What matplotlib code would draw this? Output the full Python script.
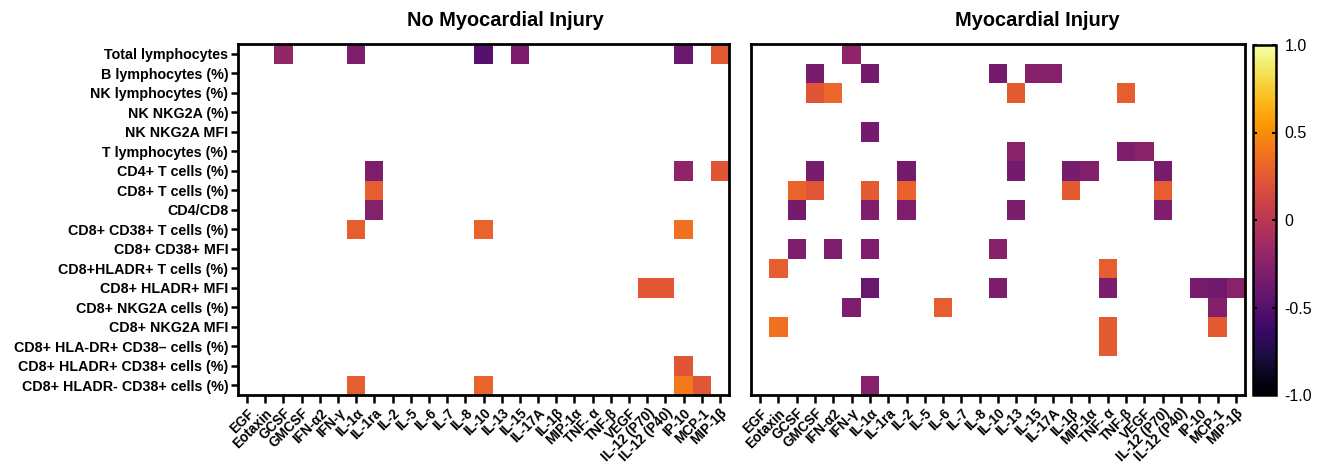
import numpy as np
import matplotlib
matplotlib.use("Agg")
import matplotlib.pyplot as plt
from matplotlib.colors import Normalize

plt.rcParams['font.family'] = ['Liberation Sans', 'DejaVu Sans']

row_labels = [
    "Total lymphocytes", "B lymphocytes (%)", "NK lymphocytes (%)", "NK NKG2A (%)",
    "NK NKG2A MFI", "T lymphocytes (%)", "CD4+ T cells (%)", "CD8+ T cells (%)",
    "CD4/CD8", "CD8+ CD38+ T cells (%)", "CD8+ CD38+ MFI", "CD8+HLADR+ T cells (%)",
    "CD8+ HLADR+ MFI", "CD8+ NKG2A cells (%)", "CD8+ NKG2A MFI",
    "CD8+ HLA-DR+ CD38\u2013 cells (%)", "CD8+ HLADR+ CD38+ cells (%)",
    "CD8+ HLADR- CD38+ cells (%)",
]
col_labels = [
    "EGF", "Eotaxin", "GCSF", "GMCSF", "IFN-\u03b12", "IFN-\u03b3", "IL-1\u03b1", "IL-1ra",
    "IL-2", "IL-5", "IL-6", "IL-7", "IL-8", "IL-10", "IL-13", "IL-15", "IL-17A",
    "IL-1\u03b2", "MIP-1\u03b1", "TNF- \u03b1", "TNF-\u03b2", "VEGF", "IL-12 (P70)",
    "IL-12 (P40)", "IP-10", "MCP-1", "MIP-1\u03b2",
]

# (row index, column index, correlation) -- only significant cells are shown
no_injury = [
    (0, 2, -0.20), (0, 6, -0.30), (0, 13, -0.50), (0, 15, -0.32), (0, 24, -0.40), (0, 26, 0.25),
    (6, 7, -0.30), (6, 24, -0.22), (6, 26, 0.22),
    (7, 7, 0.27),
    (8, 7, -0.27),
    (9, 6, 0.28), (9, 13, 0.30), (9, 24, 0.36),
    (12, 22, 0.24), (12, 23, 0.24),
    (16, 24, 0.22),
    (17, 6, 0.27), (17, 13, 0.30), (17, 24, 0.40), (17, 25, 0.23),
]
injury = [
    (0, 5, -0.22),
    (1, 3, -0.33), (1, 6, -0.35), (1, 13, -0.35), (1, 15, -0.27), (1, 16, -0.27),
    (2, 3, 0.22), (2, 4, 0.32), (2, 14, 0.25), (2, 20, 0.27),
    (4, 6, -0.35),
    (5, 14, -0.25), (5, 20, -0.30), (5, 21, -0.25),
    (6, 3, -0.33), (6, 8, -0.35), (6, 14, -0.35), (6, 17, -0.33), (6, 18, -0.28), (6, 22, -0.33),
    (7, 2, 0.30), (7, 3, 0.23), (7, 6, 0.25), (7, 8, 0.29), (7, 17, 0.25), (7, 22, 0.27),
    (8, 2, -0.35), (8, 6, -0.30), (8, 8, -0.30), (8, 14, -0.31), (8, 22, -0.30),
    (10, 2, -0.30), (10, 4, -0.30), (10, 6, -0.30), (10, 13, -0.26),
    (11, 1, 0.27), (11, 19, 0.27),
    (12, 6, -0.40), (12, 13, -0.31), (12, 19, -0.31), (12, 24, -0.33), (12, 25, -0.37), (12, 26, -0.25),
    (13, 5, -0.30), (13, 10, 0.27), (13, 25, -0.28),
    (14, 1, 0.36), (14, 19, 0.25), (14, 25, 0.25),
    (15, 19, 0.25),
    (17, 6, -0.26),
]

titles = ["No Myocardial Injury", "Myocardial Injury"]


def build(entries):
    m = np.full((len(row_labels), len(col_labels)), np.nan)
    for r, c, v in entries:
        m[r, c] = v
    return np.ma.masked_invalid(m)


W, H = 1324, 470
fig = plt.figure(figsize=(W / 100, H / 100), dpi=100)

def frac(x0, x1, y0, y1):
    return [x0 / W, 1 - y1 / H, (x1 - x0) / W, (y1 - y0) / H]

ax1 = fig.add_axes(frac(238, 729, 44, 395))
ax2 = fig.add_axes(frac(751, 1245, 44, 395))
cax = fig.add_axes(frac(1253, 1276, 45, 395))

norm = Normalize(-1, 1)
cmap = plt.get_cmap('inferno')
mesh = None
for ax, data in zip([ax1, ax2], [no_injury, injury]):
    mesh = ax.pcolormesh(build(data), cmap=cmap, norm=norm)
    ax.set_xlim(0, len(col_labels))
    ax.set_ylim(len(row_labels), 0)
    ax.set_xticks(np.arange(len(col_labels)) + 0.5)
    ax.set_xticklabels(col_labels, rotation=45, ha='right', rotation_mode='anchor',
                       fontsize=9.8, fontweight='bold')
    ax.tick_params(axis='x', length=6, width=1.8, pad=2)
    for s in ax.spines.values():
        s.set_linewidth(2.0)

ax1.set_yticks(np.arange(len(row_labels)) + 0.5)
ax1.set_yticklabels(row_labels, fontsize=10.3, fontweight='bold')
ax1.tick_params(axis='y', length=5, width=1.8, pad=2)
ax2.set_yticks([])

fig.text(505 / W, 1 - 21 / H, titles[0], ha='center', va='center', fontsize=14.4, fontweight='bold')
fig.text(1037 / W, 1 - 21 / H, titles[1], ha='center', va='center', fontsize=14.4, fontweight='bold')

cb = fig.colorbar(mesh, cax=cax, ticks=[-1.0, -0.5, 0, 0.5, 1.0])
cb.ax.set_yticklabels(["-1.0", "-0.5", "0", "0.5", "1.0"], fontsize=11.5)
cb.outline.set_linewidth(1.8)
cb.ax.tick_params(direction='in', length=3, width=1.5, left=True, right=True, pad=6)

fig.savefig("out.png", dpi=100)
